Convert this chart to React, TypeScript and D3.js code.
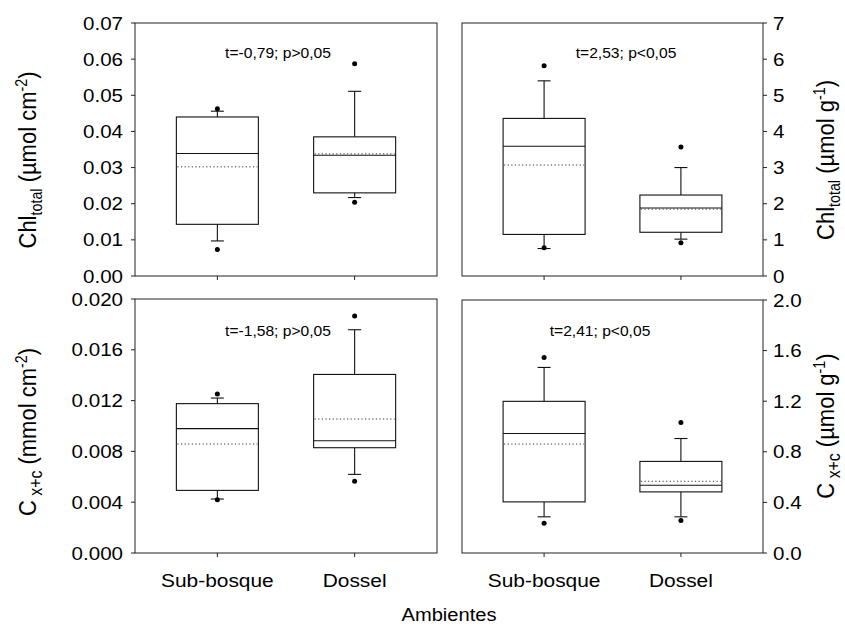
import React from "react";
import * as d3 from "d3";

const categories = ["Sub-bosque", "Dossel"];
// each row: [lowerPoint, lowerWhisker, q1, median, q3, upperWhisker, upperPoint, mean]
const chlPerArea = [
  [0.0073, 0.0097, 0.0143, 0.0339, 0.044, 0.0456, 0.0463, 0.0302],
  [0.0204, 0.0217, 0.023, 0.0334, 0.0385, 0.0511, 0.0587, 0.0338],
];
const chlPerMass = [
  [0.78, 0.76, 1.15, 3.59, 4.36, 5.4, 5.82, 3.07],
  [0.92, 1.02, 1.21, 1.88, 2.24, 3.0, 3.57, 1.85],
];
const carPerArea = [
  [0.0042, 0.00425, 0.00493, 0.00979, 0.01176, 0.0122, 0.01252, 0.00858],
  [0.00564, 0.00619, 0.00829, 0.00884, 0.01406, 0.01758, 0.01866, 0.01055],
];
const carPerMass = [
  [0.236, 0.286, 0.404, 0.945, 1.199, 1.467, 1.546, 0.861],
  [0.257, 0.286, 0.483, 0.535, 0.724, 0.905, 1.031, 0.567],
];

const chlPerAreaTicks = [0, 0.01, 0.02, 0.03, 0.04, 0.05, 0.06, 0.07];
const chlPerMassTicks = [0, 1, 2, 3, 4, 5, 6, 7];
const carPerAreaTicks = [0, 0.004, 0.008, 0.012, 0.016, 0.02];
const carPerMassTicks = [0, 0.4, 0.8, 1.2, 1.6, 2.0];

const testLabels = [
  "t=-0,79; p>0,05",
  "t=2,53; p<0,05",
  "t=-1,58; p>0,05",
  "t=2,41; p<0,05",
];
const xTitle = "Ambientes";

const SX = 1.1;
const FONT = "'Liberation Sans', Arial, sans-serif";
const TICK_SIZE = 18.7;

type Panel = {
  x0: number; x1: number; y0: number; y1: number;
  data: number[][]; domain: [number, number]; ticks: number[]; fmt: string;
  side: "left" | "right"; stat: string; statX: number; statY: number;
  showCats: boolean; label: "chlA" | "chlM" | "carA" | "carM"; labelY: number;
};

const panels: Panel[] = [
  { x0: 135, x1: 437, y0: 23, y1: 276, data: chlPerArea, domain: [0, 0.07], ticks: chlPerAreaTicks, fmt: ".2f", side: "left", stat: testLabels[0], statX: 278, statY: 58, showCats: false, label: "chlA", labelY: 160 },
  { x0: 462, x1: 763, y0: 23, y1: 276, data: chlPerMass, domain: [0, 7], ticks: chlPerMassTicks, fmt: "d", side: "right", stat: testLabels[1], statX: 626, statY: 58, showCats: false, label: "chlM", labelY: 160 },
  { x0: 135, x1: 437, y0: 299, y1: 553, data: carPerArea, domain: [0, 0.02], ticks: carPerAreaTicks, fmt: ".3f", side: "left", stat: testLabels[2], statX: 278, statY: 336, showCats: true, label: "carA", labelY: 432 },
  { x0: 462, x1: 763, y0: 300, y1: 553, data: carPerMass, domain: [0, 2], ticks: carPerMassTicks, fmt: ".1f", side: "right", stat: testLabels[3], statX: 600, statY: 336, showCats: true, label: "carM", labelY: 426 },
];

function HText({ x, y, anchor = "middle", size, children }: any) {
  return (
    <text transform={`translate(${x},${y}) scale(${SX},1)`} textAnchor={anchor} fontSize={size} fontFamily={FONT} fill="#000">
      {children}
    </text>
  );
}

function YLabel({ x, y, kind }: { x: number; y: number; kind: string }) {
  const size = 22;
  const s = size * 0.65;
  let content: any;
  if (kind === "chlA" || kind === "chlM") {
    content = (
      <>
        <tspan>Chl</tspan>
        <tspan dy={5} fontSize={s}>total</tspan>
        <tspan dy={-5}> (µmol {kind === "chlA" ? "cm" : "g"}</tspan>
        <tspan dy={-8} fontSize={s}>{kind === "chlA" ? "-2" : "-1"}</tspan>
        <tspan dy={8}>)</tspan>
      </>
    );
  } else {
    content = (
      <>
        <tspan>C</tspan>
        <tspan dy={5} fontSize={size * 0.72}> x+c</tspan>
        <tspan dy={-5}> ({kind === "carA" ? "mmol cm" : "µmol g"}</tspan>
        <tspan dy={-8} fontSize={s}>{kind === "carA" ? "-2" : "-1"}</tspan>
        <tspan dy={8}>)</tspan>
      </>
    );
  }
  return (
    <text transform={`translate(${x},${y}) scale(${SX},1) rotate(-90)`} textAnchor="middle" fontSize={size} fontFamily={FONT} fill="#000">
      {content}
    </text>
  );
}

function PanelView({ p }: { p: Panel }) {
  const y = d3.scaleLinear().domain(p.domain).range([p.y1, p.y0]);
  const x = d3.scalePoint<string>().domain(categories).range([p.x0, p.x1]).padding(0.6);
  const bw = 82;
  const cap = 13;
  const f = d3.format(p.fmt);
  const stroke = "#111";
  return (
    <g>
      {p.data.map((s, i) => {
        const cx = x(categories[i]) as number;
        const [lp, lw, q1, med, q3, uw, up, mean] = s;
        return (
          <g key={i}>
            <line x1={cx} x2={cx} y1={y(q3)} y2={y(uw)} stroke={stroke} strokeWidth={1.1} />
            <line x1={cx - cap / 2} x2={cx + cap / 2} y1={y(uw)} y2={y(uw)} stroke={stroke} strokeWidth={1.1} />
            <line x1={cx} x2={cx} y1={y(q1)} y2={y(lw)} stroke={stroke} strokeWidth={1.1} />
            <line x1={cx - cap / 2} x2={cx + cap / 2} y1={y(lw)} y2={y(lw)} stroke={stroke} strokeWidth={1.1} />
            <rect x={cx - bw / 2} y={y(q3)} width={bw} height={y(q1) - y(q3)} fill="none" stroke={stroke} strokeWidth={1.1} />
            <line x1={cx - bw / 2} x2={cx + bw / 2} y1={y(med)} y2={y(med)} stroke={stroke} strokeWidth={1.1} />
            <line x1={cx - bw / 2 + 1} x2={cx + bw / 2 - 1} y1={y(mean)} y2={y(mean)} stroke="#333" strokeWidth={1} strokeDasharray="1.2,2.4" />
            <circle cx={cx} cy={y(lp)} r={2.5} fill="#000" />
            <circle cx={cx} cy={y(up)} r={2.5} fill="#000" />
          </g>
        );
      })}
      <rect x={p.x0} y={p.y0} width={p.x1 - p.x0} height={p.y1 - p.y0} fill="none" stroke="#222" strokeWidth={1} />
      {p.ticks.map((t, i) => {
        const yy = y(t);
        if (p.side === "left") {
          return (
            <g key={i}>
              <line x1={p.x0 - 4} x2={p.x0} y1={yy} y2={yy} stroke="#222" />
              <HText x={p.x0 - 12} y={yy + 6.5} anchor="end" size={TICK_SIZE}>{f(t)}</HText>
            </g>
          );
        }
        return (
          <g key={i}>
            <line x1={p.x1} x2={p.x1 + 4} y1={yy} y2={yy} stroke="#222" />
            <HText x={p.x1 + 10} y={yy + 6.5} anchor="start" size={TICK_SIZE}>{f(t)}</HText>
          </g>
        );
      })}
      {categories.map((c) => {
        const cx = x(c) as number;
        return (
          <g key={c}>
            <line x1={cx} x2={cx} y1={p.y1} y2={p.y1 + 4} stroke="#222" />
            {p.showCats && <HText x={cx} y={p.y1 + 34} size={19}>{c}</HText>}
          </g>
        );
      })}
      <HText x={p.statX} y={p.statY} size={14.2}>{p.stat}</HText>
      <YLabel x={p.side === "left" ? 36 : 834} y={p.labelY} kind={p.label} />
    </g>
  );
}

export default function App() {
  return (
    <svg width={845} height={630} style={{ position: "absolute", left: 0, top: 0, background: "#fff" }}>
      <rect width={845} height={630} fill="#fff" />
      {panels.map((p, i) => (
        <PanelView key={i} p={p} />
      ))}
      <HText x={449} y={621} size={18.3}>{xTitle}</HText>
    </svg>
  );
}
